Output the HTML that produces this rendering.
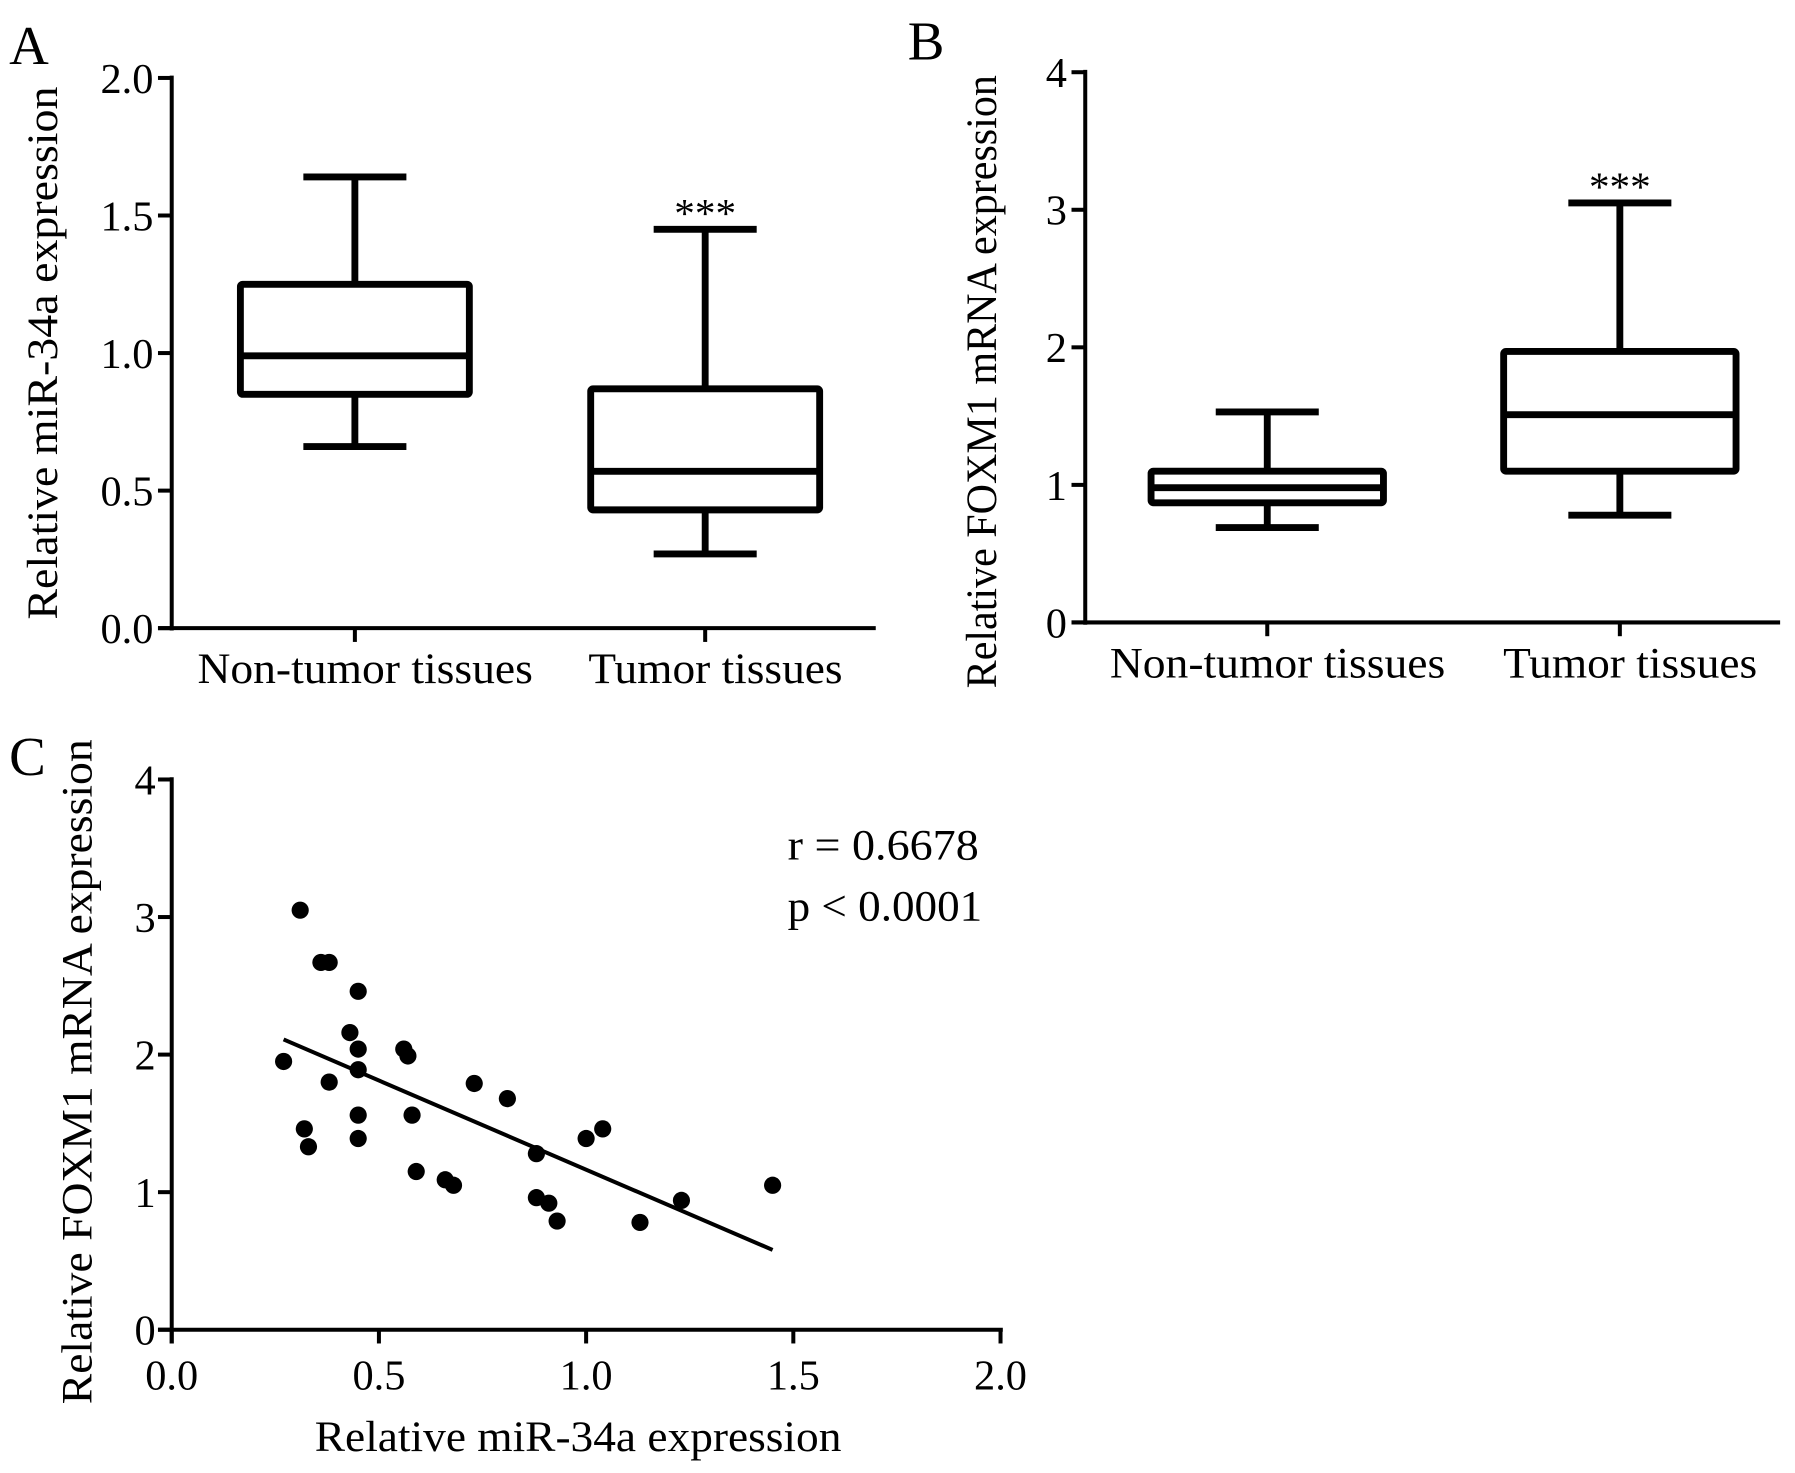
<!DOCTYPE html>
<html><head><meta charset="utf-8"><style>
html,body{margin:0;padding:0;background:#fff;}
svg{display:block;font-family:"Liberation Serif",serif;}
</style></head><body>
<svg id="fig" width="1795" height="1473" viewBox="0 0 1568 1285" preserveAspectRatio="none" xmlns="http://www.w3.org/2000/svg"></svg>
<script>
const catLabels = ["Non-tumor tissues", "Tumor tissues"];
// box stats: [min, q1, median, q3, max]
const boxA = [[0.66, 0.85, 0.99, 1.25, 1.64], [0.27, 0.43, 0.57, 0.87, 1.45]];
const boxB = [[0.69, 0.87, 0.98, 1.10, 1.53], [0.78, 1.10, 1.51, 1.97, 3.05]];
const ticksA = [0, 0.5, 1.0, 1.5, 2.0];
const ticksB = [0, 1, 2, 3, 4];
const scatterX = [0.27,0.31,0.32,0.33,0.36,0.38,0.38,0.43,0.45,0.45,0.45,0.45,0.45,0.56,0.57,0.58,0.59,0.66,0.68,0.73,0.81,0.88,0.88,0.91,0.93,1.00,1.04,1.13,1.23,1.45];
const scatterY = [1.95,3.05,1.46,1.33,2.67,2.67,1.80,2.16,2.46,2.04,1.89,1.56,1.39,2.04,1.99,1.56,1.15,1.09,1.05,1.79,1.68,1.28,0.96,0.92,0.79,1.39,1.46,0.78,0.94,1.05];
const fitLineX = [0.27, 1.45];
const fitLineY = [2.11, 0.58];
const ticksCX = [0, 0.5, 1.0, 1.5, 2.0];
const ticksCY = [0, 1, 2, 3, 4];

const NS = "http://www.w3.org/2000/svg";
const svg = document.getElementById("fig");
const catLens = [293, 222];
function mk(tag, attrs, parent) {
  const e = document.createElementNS(NS, tag);
  for (const k in attrs) e.setAttribute(k, attrs[k]);
  (parent || svg).appendChild(e);
  return e;
}
function txt(s, attrs, parent) { const t = mk("text", attrs, parent); t.textContent = s; return t; }

function boxPanel(name, letter, lx, ly, ax, y0, y1, xEnd, catX, boxW, capW, ticks, fmt, vmax, data, ytitle, ytx, yty, ytLen) {
  const g = mk("g", {});
  
  
  const yS = v => y0 - (v / vmax) * (y0 - y1);
  const L = txt(letter, {x: lx, y: ly, "font-size": 48}, g);
  
  
  const axY = mk("line", {x1: ax, y1: y1 - 2, x2: ax, y2: y0 + 2, stroke: "#000", "stroke-width": 3.5}, g);
  
  
  const axX = mk("line", {x1: ax - 12, y1: y0, x2: xEnd, y2: y0, stroke: "#000", "stroke-width": 3.5}, g);
  
  
  ticks.forEach(t => {
    const y = yS(t);
    mk("line", {x1: ax - 12, y1: y, x2: ax, y2: y, stroke: "#000", "stroke-width": 3.5}, g);
    const tl = txt(fmt(t), {x: ax - 16, y: y + 13, "font-size": 37, "text-anchor": "end"}, g);
    
    
  });
  const yt = txt(ytitle, {x: 0, y: 0, "font-size": 38, "text-anchor": "middle", textLength: ytLen, lengthAdjust: "spacingAndGlyphs", transform: `translate(${ytx},${yty}) rotate(-90)`}, g);
  
  
  data.forEach((d, i) => {
    const cx = catX[i];
    mk("line", {x1: cx, y1: y0, x2: cx, y2: y0 + 12, stroke: "#000", "stroke-width": 3.5}, g);
    const cl = txt(catLabels[i], {x: cx + 9, y: y0 + 48, "font-size": 38, "text-anchor": "middle", textLength: catLens[i], lengthAdjust: "spacingAndGlyphs"}, g);
    
    
    const bg = mk("g", {stroke: "#000", "stroke-width": 6, fill: "none"}, g);
    
    
    const [mn, q1, md, q3, mx] = d;
    mk("rect", {x: cx - boxW / 2, y: yS(q3), width: boxW, height: yS(q1) - yS(q3), rx: 2}, bg);
    mk("line", {x1: cx - boxW / 2, y1: yS(md), x2: cx + boxW / 2, y2: yS(md)}, bg);
    mk("line", {x1: cx, y1: yS(q3), x2: cx, y2: yS(mx)}, bg);
    mk("line", {x1: cx, y1: yS(q1), x2: cx, y2: yS(mn)}, bg);
    mk("line", {x1: cx - capW / 2, y1: yS(mx), x2: cx + capW / 2, y2: yS(mx)}, bg);
    mk("line", {x1: cx - capW / 2, y1: yS(mn), x2: cx + capW / 2, y2: yS(mn)}, bg);
    if (i === 1) {
      const s = txt("***", {x: cx, y: yS(mx) - 2, "font-size": 36, "text-anchor": "middle"}, g);
      
      
    }
  });
}
boxPanel("panel-a", "A", 8, 56, 150, 548, 68, 765, [310, 616], 200, 90, ticksA, v => v.toFixed(1), 2, boxA, "Relative miR-34a expression", 50, 308, 465);
boxPanel("panel-b", "B", 793, 52, 948, 543, 63, 1555, [1107, 1415], 203, 90, ticksB, v => String(v), 4, boxB, "Relative FOXM1 mRNA expression", 870, 333, 535);

// Panel C scatter
(function () {
  const g = mk("g", {});
  
  
  const ax = 150, y0 = 1160, y1 = 680, xr = 874;
  const xS = v => ax + (v / 2) * (xr - ax);
  const yS = v => y0 - (v / 4) * (y0 - y1);
  const L = txt("C", {x: 8, y: 676, "font-size": 48}, g);
  
  
  const axY = mk("line", {x1: ax, y1: y1 - 2, x2: ax, y2: y0 + 12, stroke: "#000", "stroke-width": 3.5}, g);
  
  
  const axX = mk("line", {x1: ax - 12, y1: y0, x2: xr + 2, y2: y0, stroke: "#000", "stroke-width": 3.5}, g);
  
  
  ticksCY.forEach(t => {
    mk("line", {x1: ax - 12, y1: yS(t), x2: ax, y2: yS(t), stroke: "#000", "stroke-width": 3.5}, g);
    const tl = txt(String(t), {x: ax - 14, y: yS(t) + 13, "font-size": 37, "text-anchor": "end"}, g);
    
    
  });
  ticksCX.forEach(t => {
    mk("line", {x1: xS(t), y1: y0, x2: xS(t), y2: y0 + 12, stroke: "#000", "stroke-width": 3.5}, g);
    const tl = txt(t.toFixed(1), {x: xS(t), y: y0 + 52, "font-size": 37, "text-anchor": "middle"}, g);
    
    
  });
  const xt = txt("Relative miR-34a expression", {x: 505, y: 1266, "font-size": 38, "text-anchor": "middle", textLength: 460, lengthAdjust: "spacingAndGlyphs"}, g);
  
  
  const yt = txt("Relative FOXM1 mRNA expression", {x: 0, y: 0, "font-size": 38, "text-anchor": "middle", textLength: 580, lengthAdjust: "spacingAndGlyphs", transform: "translate(80,935) rotate(-90)"}, g);
  
  
  const fl = mk("line", {x1: xS(fitLineX[0]), y1: yS(fitLineY[0]), x2: xS(fitLineX[1]), y2: yS(fitLineY[1]), stroke: "#000", "stroke-width": 3.5}, g);
  
  
  scatterX.forEach((x, i) => {
    const c = mk("circle", {cx: xS(x), cy: yS(scatterY[i]), r: 7.5, fill: "#000"}, g);
    
    
  });
  const r = txt("r = 0.6678", {x: 688, y: 750, "font-size": 38, textLength: 167, lengthAdjust: "spacingAndGlyphs"}, g);
  
  
  const p = txt("p < 0.0001", {x: 688, y: 803, "font-size": 38, textLength: 170, lengthAdjust: "spacingAndGlyphs"}, g);
  
  
})();
</script>
</body></html>
